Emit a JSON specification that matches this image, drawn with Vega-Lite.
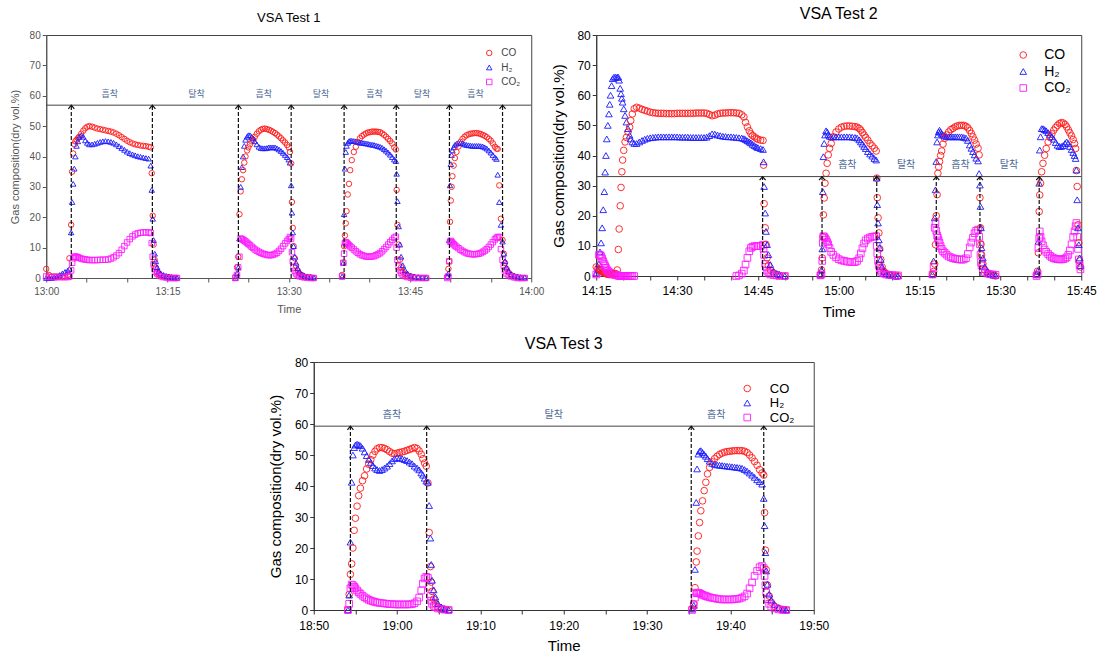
{
"$schema": "https://vega.github.io/schema/vega-lite/v6.json",
"padding": {"left": 8, "top": 5, "right": 2, "bottom": 0},
"background": "white",
"config": {
  "font": "Liberation Sans",
  "view": {"stroke": "#444", "strokeWidth": 1},
  "axis": {"grid": false, "labelFont": "Liberation Sans", "titleFont": "Liberation Sans", "titleFontWeight": "normal", "labelFlush": false, "labelOverlap": false, "domainColor": "#333", "tickColor": "#333", "tickSize": 4},
  "title": {"fontWeight": "normal", "font": "Liberation Sans", "color": "#000"}
},
"resolve": {"scale": {"color": "independent", "shape": "independent"}},
"center": true,
"spacing": 15,
"vconcat": [
{"hconcat": [
{
 "width": 485, "height": 243,
 "title": {"text": "VSA Test 1", "fontSize": 13, "offset": 5},
 "layer": [
  {
   "data": {"values": [
{"min":0,"CO":3,"H₂":0,"CO₂":0.5},{"min":0.33,"CO":1,"H₂":0,"CO₂":0.3},{"min":0.67,"CO":0.5,"H₂":0,"CO₂":0.3},{"min":1,"CO":0.5,"H₂":0.2,"CO₂":0.3},{"min":1.33,"CO":0.5,"H₂":0.5,"CO₂":0.3},{"min":1.67,"CO":0.5,"H₂":1,"CO₂":0.3},{"min":2,"CO":0.5,"H₂":1.5,"CO₂":0.3},{"min":2.33,"CO":0.5,"H₂":2,"CO₂":0.3},{"min":2.67,"CO":1,"H₂":2.5,"CO₂":0.3},{"min":2.87,"CO":6.5,"H₂":3,"CO₂":0.5},
{"min":3.08,"CO":17.5,"H₂":15,"CO₂":2.5},{"min":3.2,"CO":35,"H₂":25,"CO₂":5},{"min":3.33,"CO":41,"H₂":31,"CO₂":6.5},{"min":3.47,"CO":44,"H₂":36,"CO₂":7},{"min":3.6,"CO":45,"H₂":40,"CO₂":7},{"min":3.75,"CO":45.5,"H₂":43.5,"CO₂":7},{"min":3.92,"CO":46,"H₂":45,"CO₂":6.8},{"min":4.08,"CO":46.5,"H₂":46.5,"CO₂":6.6},{"min":4.33,"CO":47.5,"H₂":47,"CO₂":6.4},{"min":4.58,"CO":48.5,"H₂":46.5,"CO₂":6.2},{"min":4.83,"CO":49.3,"H₂":45.3,"CO₂":6.1},{"min":5.08,"CO":49.8,"H₂":44.5,"CO₂":6},{"min":5.33,"CO":50,"H₂":44,"CO₂":5.9},{"min":5.67,"CO":49.8,"H₂":44,"CO₂":5.9},{"min":6,"CO":49.5,"H₂":44.2,"CO₂":5.9},{"min":6.33,"CO":49.2,"H₂":44.5,"CO₂":5.9},{"min":6.67,"CO":49,"H₂":44.8,"CO₂":6},{"min":7,"CO":48.8,"H₂":45,"CO₂":6},{"min":7.33,"CO":48.6,"H₂":45.1,"CO₂":6},{"min":7.67,"CO":48.4,"H₂":45,"CO₂":6.1},{"min":8,"CO":48.2,"H₂":44.8,"CO₂":6.4},{"min":8.33,"CO":47.9,"H₂":44.5,"CO₂":6.8},{"min":8.67,"CO":47.5,"H₂":44,"CO₂":7.4},{"min":9,"CO":47,"H₂":43.4,"CO₂":8.2},{"min":9.33,"CO":46.4,"H₂":42.8,"CO₂":9.3},{"min":9.67,"CO":45.8,"H₂":42.2,"CO₂":10.5},{"min":10,"CO":45.2,"H₂":41.6,"CO₂":11.7},{"min":10.33,"CO":44.7,"H₂":41.1,"CO₂":12.8},{"min":10.67,"CO":44.3,"H₂":40.7,"CO₂":13.7},{"min":11,"CO":44,"H₂":40.4,"CO₂":14.3},{"min":11.33,"CO":43.8,"H₂":40.1,"CO₂":14.7},{"min":11.67,"CO":43.6,"H₂":39.9,"CO₂":14.9},{"min":12,"CO":43.5,"H₂":39.7,"CO₂":15},{"min":12.33,"CO":43.4,"H₂":39.5,"CO₂":15},{"min":12.67,"CO":43.2,"H₂":39.3,"CO₂":15},{"min":12.92,"CO":43,"H₂":37,"CO₂":14.8},{"min":13.05,"CO":34.5,"H₂":29,"CO₂":11.5},{"min":13.17,"CO":20.5,"H₂":19.5,"CO₂":7},{"min":13.28,"CO":11,"H₂":12.5,"CO₂":4.5},{"min":13.42,"CO":6,"H₂":8,"CO₂":3},{"min":13.55,"CO":3.5,"H₂":5.5,"CO₂":2},{"min":13.72,"CO":2,"H₂":3.5,"CO₂":1.5},{"min":13.92,"CO":1.2,"H₂":2.3,"CO₂":1},{"min":14.17,"CO":0.8,"H₂":1.5,"CO₂":0.6},{"min":14.5,"CO":0.5,"H₂":1,"CO₂":0.3},{"min":14.83,"CO":0.3,"H₂":0.7,"CO₂":0.2},{"min":15.17,"CO":0.2,"H₂":0.5,"CO₂":0},{"min":15.5,"CO":0.1,"H₂":0.3,"CO₂":0},{"min":15.83,"CO":0,"H₂":0.2,"CO₂":0},{"min":16.17,"CO":0,"H₂":0.1,"CO₂":0},
{"min":23.4,"CO":0.5,"H₂":0,"CO₂":0},{"min":23.6,"CO":3.5,"H₂":1.5,"CO₂":1},{"min":23.75,"CO":7,"H₂":3.5,"CO₂":3.5},{"min":23.9,"CO":21,"H₂":13,"CO₂":7},{"min":24.05,"CO":28.5,"H₂":30,"CO₂":13},{"min":24.2,"CO":32.5,"H₂":36.5,"CO₂":12.8},{"min":24.35,"CO":35.5,"H₂":40,"CO₂":12.6},{"min":24.5,"CO":38,"H₂":43.5,"CO₂":12.3},{"min":24.65,"CO":40,"H₂":45.5,"CO₂":12},{"min":24.85,"CO":42,"H₂":46.5,"CO₂":11.6},{"min":25,"CO":43,"H₂":47,"CO₂":11.2},{"min":25.2,"CO":44,"H₂":47,"CO₂":10.8},{"min":25.4,"CO":45,"H₂":46.5,"CO₂":10.3},{"min":25.6,"CO":45.5,"H₂":46,"CO₂":9.9},{"min":25.8,"CO":46.5,"H₂":45,"CO₂":9.4},{"min":26.05,"CO":47.5,"H₂":44,"CO₂":9},{"min":26.3,"CO":48.3,"H₂":43.2,"CO₂":8.6},{"min":26.55,"CO":48.8,"H₂":42.8,"CO₂":8.3},{"min":26.8,"CO":49.1,"H₂":42.7,"CO₂":8},{"min":27.05,"CO":49.2,"H₂":42.7,"CO₂":7.8},{"min":27.3,"CO":49,"H₂":42.8,"CO₂":7.6},{"min":27.55,"CO":48.8,"H₂":43,"CO₂":7.5},{"min":27.8,"CO":48.5,"H₂":43,"CO₂":7.5},{"min":28.05,"CO":48.1,"H₂":43,"CO₂":7.7},{"min":28.3,"CO":47.7,"H₂":43,"CO₂":7.9},{"min":28.55,"CO":47.2,"H₂":42.7,"CO₂":8.3},{"min":28.8,"CO":46.6,"H₂":42.3,"CO₂":8.9},{"min":29.05,"CO":46,"H₂":41.8,"CO₂":9.6},{"min":29.3,"CO":45.3,"H₂":41.2,"CO₂":10.5},{"min":29.55,"CO":44.6,"H₂":40.5,"CO₂":11.4},{"min":29.8,"CO":43.8,"H₂":39.8,"CO₂":12.2},{"min":30,"CO":43,"H₂":39,"CO₂":12.8},{"min":30.15,"CO":41.5,"H₂":38,"CO₂":13.5},{"min":30.3,"CO":37.7,"H₂":30.5,"CO₂":13},{"min":30.4,"CO":25,"H₂":21.5,"CO₂":8.5},{"min":30.5,"CO":16.5,"H₂":15,"CO₂":5.5},{"min":30.6,"CO":10.5,"H₂":10.5,"CO₂":3.5},{"min":30.75,"CO":6.5,"H₂":7,"CO₂":2.3},{"min":30.9,"CO":4,"H₂":5,"CO₂":1.5},{"min":31.1,"CO":2.5,"H₂":3.2,"CO₂":1},{"min":31.3,"CO":1.5,"H₂":2,"CO₂":0.6},{"min":31.6,"CO":1,"H₂":1.2,"CO₂":0.4},{"min":31.9,"CO":0.5,"H₂":0.8,"CO₂":0.2},{"min":32.3,"CO":0.3,"H₂":0.5,"CO₂":0.1},{"min":32.7,"CO":0.2,"H₂":0.3,"CO₂":0},{"min":33.1,"CO":0,"H₂":0.2,"CO₂":0},
{"min":36.6,"CO":1,"H₂":0.5,"CO₂":0.5},{"min":36.75,"CO":5,"H₂":5,"CO₂":5},{"min":36.85,"CO":10.5,"H₂":21,"CO₂":8},{"min":36.95,"CO":14,"H₂":36,"CO₂":11.5},{"min":37.05,"CO":18,"H₂":41.5,"CO₂":11.8},{"min":37.15,"CO":22,"H₂":43.5,"CO₂":11.6},{"min":37.3,"CO":27.5,"H₂":44.5,"CO₂":11.2},{"min":37.45,"CO":31,"H₂":45,"CO₂":10.8},{"min":37.6,"CO":35.5,"H₂":45.2,"CO₂":10.4},{"min":37.8,"CO":38.8,"H₂":45.2,"CO₂":10},{"min":38.05,"CO":41.5,"H₂":45.1,"CO₂":9.4},{"min":38.3,"CO":43.2,"H₂":45,"CO₂":8.8},{"min":38.55,"CO":44.8,"H₂":44.8,"CO₂":8.3},{"min":38.8,"CO":46,"H₂":44.6,"CO₂":7.8},{"min":39.05,"CO":46.7,"H₂":44.5,"CO₂":7.5},{"min":39.3,"CO":47.2,"H₂":44.4,"CO₂":7.3},{"min":39.55,"CO":47.6,"H₂":44.3,"CO₂":7.1},{"min":39.8,"CO":47.9,"H₂":44.2,"CO₂":7},{"min":40.05,"CO":48,"H₂":44,"CO₂":7},{"min":40.3,"CO":48.2,"H₂":43.9,"CO₂":7.1},{"min":40.55,"CO":48.2,"H₂":43.8,"CO₂":7.2},{"min":40.8,"CO":48.2,"H₂":43.6,"CO₂":7.5},{"min":41.05,"CO":48.1,"H₂":43.4,"CO₂":7.8},{"min":41.3,"CO":48,"H₂":43.2,"CO₂":8.2},{"min":41.55,"CO":47.6,"H₂":42.9,"CO₂":8.8},{"min":41.8,"CO":47.1,"H₂":42.4,"CO₂":9.5},{"min":42.05,"CO":46.5,"H₂":41.9,"CO₂":10.2},{"min":42.3,"CO":45.8,"H₂":41.3,"CO₂":11},{"min":42.55,"CO":45.1,"H₂":40.6,"CO₂":11.8},{"min":42.8,"CO":44.3,"H₂":39.8,"CO₂":12.5},{"min":43.05,"CO":43,"H₂":39,"CO₂":13.2},{"min":43.25,"CO":42.3,"H₂":38.5,"CO₂":13.6},{"min":43.35,"CO":29,"H₂":34.3,"CO₂":10},{"min":43.45,"CO":17.5,"H₂":25.3,"CO₂":6},{"min":43.6,"CO":11,"H₂":17,"CO₂":3.8},{"min":43.75,"CO":6,"H₂":11,"CO₂":2.5},{"min":43.9,"CO":3.5,"H₂":7,"CO₂":1.6},{"min":44.1,"CO":2,"H₂":4.2,"CO₂":1},{"min":44.4,"CO":1.2,"H₂":2.5,"CO₂":0.6},{"min":44.7,"CO":0.8,"H₂":1.5,"CO₂":0.3},{"min":45.1,"CO":0.5,"H₂":0.8,"CO₂":0.1},{"min":45.5,"CO":0.3,"H₂":0.5,"CO₂":0},{"min":46,"CO":0.1,"H₂":0.3,"CO₂":0},{"min":46.5,"CO":0,"H₂":0.2,"CO₂":0},{"min":47,"CO":0,"H₂":0.1,"CO₂":0},
{"min":49.6,"CO":0.5,"H₂":0.5,"CO₂":0},{"min":49.75,"CO":3,"H₂":1.5,"CO₂":0.5},{"min":49.85,"CO":5.5,"H₂":12.5,"CO₂":5.5},{"min":49.95,"CO":18.5,"H₂":30.5,"CO₂":12},{"min":50.05,"CO":25.5,"H₂":37.5,"CO₂":12.2},{"min":50.15,"CO":30,"H₂":40.5,"CO₂":11.8},{"min":50.25,"CO":33.5,"H₂":42,"CO₂":11.5},{"min":50.4,"CO":37,"H₂":43,"CO₂":11.1},{"min":50.55,"CO":39.5,"H₂":43.8,"CO₂":10.7},{"min":50.75,"CO":41.5,"H₂":44.2,"CO₂":10.3},{"min":51,"CO":43.3,"H₂":44.5,"CO₂":9.8},{"min":51.25,"CO":44.8,"H₂":44.5,"CO₂":9.3},{"min":51.5,"CO":45.8,"H₂":44.3,"CO₂":8.9},{"min":51.75,"CO":46.5,"H₂":44,"CO₂":8.5},{"min":52,"CO":47,"H₂":43.8,"CO₂":8.2},{"min":52.25,"CO":47.3,"H₂":43.7,"CO₂":8},{"min":52.5,"CO":47.5,"H₂":43.6,"CO₂":7.9},{"min":52.75,"CO":47.6,"H₂":43.5,"CO₂":7.8},{"min":53,"CO":47.7,"H₂":43.5,"CO₂":7.8},{"min":53.25,"CO":47.7,"H₂":43.5,"CO₂":7.9},{"min":53.5,"CO":47.6,"H₂":43.5,"CO₂":8},{"min":53.75,"CO":47.4,"H₂":43.4,"CO₂":8.2},{"min":54,"CO":47.1,"H₂":43.3,"CO₂":8.6},{"min":54.25,"CO":46.8,"H₂":43,"CO₂":9},{"min":54.5,"CO":46.4,"H₂":42.6,"CO₂":9.5},{"min":54.75,"CO":45.8,"H₂":42,"CO₂":10.2},{"min":55,"CO":45.2,"H₂":41.3,"CO₂":11},{"min":55.25,"CO":44.3,"H₂":40.5,"CO₂":11.8},{"min":55.5,"CO":43.2,"H₂":39.7,"CO₂":12.7},{"min":55.7,"CO":42.6,"H₂":39.2,"CO₂":13.2},{"min":55.85,"CO":42.5,"H₂":34,"CO₂":13.5},{"min":56.05,"CO":30.5,"H₂":25,"CO₂":13.5},{"min":56.25,"CO":19.5,"H₂":17.5,"CO₂":9.5},{"min":56.45,"CO":12.5,"H₂":12,"CO₂":6},{"min":56.6,"CO":8,"H₂":8,"CO₂":4},{"min":56.75,"CO":5,"H₂":5.5,"CO₂":2.5},{"min":56.95,"CO":3,"H₂":3.5,"CO₂":1.5},{"min":57.2,"CO":1.8,"H₂":2.2,"CO₂":1},{"min":57.5,"CO":1,"H₂":1.3,"CO₂":0.5},{"min":57.9,"CO":0.5,"H₂":0.8,"CO₂":0.2},{"min":58.3,"CO":0.2,"H₂":0.5,"CO₂":0},{"min":58.7,"CO":0,"H₂":0.3,"CO₂":0},{"min":59.2,"CO":0,"H₂":0.2,"CO₂":0}
   ]},
   "transform": [{"fold": ["CO", "H₂", "CO₂"], "as": ["gas", "pct"]}, {"filter": {"field": "pct", "valid": true}}],
   "mark": {"type": "point", "filled": false, "size": 30, "strokeWidth": 0.9, "opacity": 1},
   "encoding": {
    "x": {"field": "min", "type": "quantitative", "title": "Time",
      "scale": {"domain": [0, 60], "nice": false, "zero": false},
      "axis": {"values": [0,5,10,15,20,25,30,35,40,45,50,55,60], "tickCount": 100, "labelOverlap": false, "labelExpr": "datum.value % 15 == 0 ? floor((780 + datum.value) / 60) + ':' + (((780 + datum.value) % 60) < 10 ? '0' : '') + ((780 + datum.value) % 60) : ''", "labelFontSize": 10, "labelColor": "#555", "titleFontSize": 11, "titleColor": "#555", "labelPadding": 4, "titlePadding": 7, "domainColor": "#555", "tickColor": "#555"}},
    "y": {"field": "pct", "type": "quantitative", "title": "Gas composition(dry vol.%)",
      "scale": {"domain": [0, 80], "nice": false},
      "axis": {"values": [0, 10, 20, 30, 40, 50, 60, 70, 80], "tickCount": 100, "labelOverlap": false, "labelFontSize": 10, "labelColor": "#555", "titleFontSize": 11, "titleColor": "#555", "labelPadding": 2, "titlePadding": 9, "domainColor": "#555", "tickColor": "#555"}},
    "color": {"field": "gas", "type": "nominal", "scale": {"domain": ["CO", "H₂", "CO₂"], "range": ["#ff1a1a", "#1a1aff", "#ff1aff"]},
      "legend": {"orient": "none", "legendX": 438, "legendY": 13, "title": null, "padding": 0, "labelFontSize": 10, "labelColor": "#444", "symbolSize": 30, "symbolStrokeWidth": 0.9, "rowPadding": 4.5, "labelOffset": 7}},
    "shape": {"field": "gas", "type": "nominal", "scale": {"domain": ["CO", "H₂", "CO₂"], "range": ["circle", "triangle-up", "square"]},
      "legend": {"orient": "none", "legendX": 438, "legendY": 13, "title": null, "padding": 0, "labelFontSize": 10, "labelColor": "#444", "symbolSize": 30, "symbolStrokeWidth": 0.9, "rowPadding": 4.5, "labelOffset": 7}}
   }
  },
  {"data": {"values": [{}]}, "mark": {"type": "rule", "color": "#444", "strokeWidth": 1}, "encoding": {"y": {"datum": 56.9}}},
  {"data": {"values": [{"min":3.1},{"min":13.13},{"min":23.77},{"min":30.3},{"min":36.85},{"min":43.3},{"min":49.88},{"min":56.45}]},
   "mark": {"type": "rule", "color": "#111", "strokeWidth": 1.2, "strokeDash": [4, 2]}, "encoding": {"x": {"field": "min", "type": "quantitative"}, "y": {"datum": 0}, "y2": {"datum": 56.9}}},
  {"data": {"values": [{"min":3.1},{"min":13.13},{"min":23.77},{"min":30.3},{"min":36.85},{"min":43.3},{"min":49.88},{"min":56.45}]},
   "mark": {"type": "point", "shape": "M-1,1.2L0,0L1,1.2", "filled": false, "size": 36, "color": "#111", "strokeWidth": 1.2, "opacity": 1}, "encoding": {"x": {"field": "min", "type": "quantitative"}, "y": {"datum": 56.9}}},
  {"data": {"values": [{"min":7.87,"label":"흡착"},{"min":18.6,"label":"탈착"},{"min":26.9,"label":"흡착"},{"min":34,"label":"탈착"},{"min":40.6,"label":"흡착"},{"min":46.5,"label":"탈착"},{"min":53.1,"label":"흡착"}]},
   "mark": {"type": "text", "font": "Noto Sans CJK KR", "fontSize": 9, "color": "#4d6a96"},
   "encoding": {"x": {"field": "min", "type": "quantitative"}, "y": {"datum": 60.6}, "text": {"field": "label"}}}
 ]
},
{
 "width": 485, "height": 241,
 "title": {"text": "VSA Test 2", "fontSize": 16, "offset": 7},
 "layer": [
  {
   "data": {"values": [
{"min":0,"CO":3,"H₂":1,"CO₂":0.5},{"min":0.3,"CO":2.5,"H₂":2,"CO₂":1},{"min":0.5,"CO":2.2,"H₂":4,"CO₂":7},{"min":0.7,"CO":2,"H₂":8,"CO₂":7},{"min":0.9,"CO":1.7,"H₂":11,"CO₂":6.6},{"min":1.1,"CO":1.4,"H₂":16,"CO₂":5.8},{"min":1.3,"CO":1.2,"H₂":22,"CO₂":4.9},{"min":1.5,"CO":1,"H₂":28,"CO₂":4},{"min":1.65,"CO":0.9,"H₂":34.5,"CO₂":3.3},{"min":1.8,"CO":0.8,"H₂":40,"CO₂":2.7},{"min":1.95,"CO":0.7,"H₂":45.5,"CO₂":2.2},{"min":2.15,"CO":0.6,"H₂":50,"CO₂":1.7},{"min":2.35,"CO":0.5,"H₂":53.8,"CO₂":1.3},{"min":2.5,"CO":0.5,"H₂":57,"CO₂":1.1},{"min":2.65,"CO":0.5,"H₂":60,"CO₂":0.9},{"min":2.85,"CO":0.5,"H₂":63.2,"CO₂":0.7},{"min":3.05,"CO":0.5,"H₂":65.5,"CO₂":0.6},{"min":3.3,"CO":0.6,"H₂":66,"CO₂":0.5},{"min":3.6,"CO":0.8,"H₂":66,"CO₂":0.3},{"min":3.9,"CO":2,"H₂":66,"CO₂":0.2},{"min":4.1,"CO":8.8,"H₂":66,"CO₂":0.1},{"min":4.25,"CO":15.6,"H₂":65,"CO₂":0.1},{"min":4.45,"CO":23.3,"H₂":62.3,"CO₂":0},{"min":4.6,"CO":29.4,"H₂":60.5,"CO₂":0},{"min":4.75,"CO":34.6,"H₂":59,"CO₂":0},{"min":4.9,"CO":38.5,"H₂":57.7,"CO₂":0},{"min":5.1,"CO":41.7,"H₂":55.5,"CO₂":0},{"min":5.35,"CO":44.5,"H₂":53.3,"CO₂":0},{"min":5.6,"CO":46,"H₂":51.1,"CO₂":0},{"min":5.9,"CO":47.8,"H₂":48.9,"CO₂":0},{"min":6.2,"CO":49.4,"H₂":46.7,"CO₂":0},{"min":6.4,"CO":51.6,"H₂":45.5,"CO₂":0},{"min":6.7,"CO":53.8,"H₂":44.5,"CO₂":0},{"min":7.05,"CO":55.5,"H₂":44,"CO₂":0},
{"min":7.5,"CO":56,"H₂":44},{"min":8,"CO":55.7,"H₂":44.5},{"min":8.5,"CO":55.3,"H₂":45},{"min":9,"CO":55,"H₂":45.4},{"min":9.5,"CO":54.7,"H₂":45.7},{"min":10,"CO":54.4,"H₂":45.9},{"min":10.5,"CO":54.2,"H₂":46},{"min":11,"CO":54.1,"H₂":46.1},{"min":11.5,"CO":54,"H₂":46.2},{"min":12,"CO":54,"H₂":46.2},{"min":12.5,"CO":54,"H₂":46.2},{"min":13,"CO":53.9,"H₂":46.2},{"min":13.5,"CO":53.9,"H₂":46.2},{"min":14,"CO":53.9,"H₂":46.2},{"min":14.5,"CO":53.9,"H₂":46.2},{"min":15,"CO":54,"H₂":46.2},{"min":15.5,"CO":54,"H₂":46.1},{"min":16,"CO":54,"H₂":46.1},{"min":16.5,"CO":54,"H₂":46.1},{"min":17,"CO":54,"H₂":46.1},{"min":17.5,"CO":54,"H₂":46},{"min":18,"CO":54,"H₂":46},{"min":18.5,"CO":54.1,"H₂":46},{"min":19,"CO":54.1,"H₂":46},{"min":19.5,"CO":54.1,"H₂":46},{"min":20,"CO":54.1,"H₂":46},{"min":20.5,"CO":54,"H₂":46.1},{"min":21,"CO":53.6,"H₂":46.6},{"min":21.5,"CO":53.2,"H₂":47.2},{"min":22,"CO":53.4,"H₂":47.1},{"min":22.5,"CO":53.8,"H₂":46.8},{"min":23,"CO":54,"H₂":46.6},{"min":23.5,"CO":54.1,"H₂":46.4},{"min":24,"CO":54.1,"H₂":46.3},{"min":24.5,"CO":54.2,"H₂":46.2},{"min":25,"CO":54.2,"H₂":46.2},{"min":25.5,"CO":54.2,"H₂":46.1},
{"min":26,"CO":54.1,"H₂":46,"CO₂":0},{"min":26.5,"CO":54,"H₂":45.9,"CO₂":0.2},{"min":27,"CO":53.5,"H₂":45.8,"CO₂":0.8},{"min":27.4,"CO":52.8,"H₂":45.6,"CO₂":1.8},{"min":27.7,"CO":51,"H₂":45.3,"CO₂":3.8},{"min":28.05,"CO":49.5,"H₂":44.9,"CO₂":6},{"min":28.4,"CO":48.2,"H₂":44.5,"CO₂":8.2},{"min":28.7,"CO":47.2,"H₂":44.2,"CO₂":9.3},{"min":29,"CO":46.6,"H₂":43.7,"CO₂":9.7},{"min":29.35,"CO":46.2,"H₂":43.3,"CO₂":9.9},{"min":29.7,"CO":45.7,"H₂":42.9,"CO₂":9.9},{"min":30,"CO":45.4,"H₂":42.6,"CO₂":9.9},{"min":30.5,"CO":45.1,"H₂":42.3,"CO₂":10},{"min":30.95,"CO":45,"H₂":42,"CO₂":10.4},{"min":31.05,"CO":36.8,"H₂":37.9,"CO₂":9},{"min":31.15,"CO":24,"H₂":29.7,"CO₂":7},{"min":31.35,"CO":16,"H₂":20.9,"CO₂":4},{"min":31.5,"CO":10.5,"H₂":14.8,"CO₂":3},{"min":31.7,"CO":6,"H₂":10.4,"CO₂":1.8},{"min":31.95,"CO":3.5,"H₂":7.1,"CO₂":1.2},{"min":32.3,"CO":2,"H₂":3.8,"CO₂":0.5},{"min":32.9,"CO":1,"H₂":1.6,"CO₂":0.3},{"min":33.5,"CO":0.5,"H₂":0.8,"CO₂":0.2},{"min":34,"CO":0.2,"H₂":0.5,"CO₂":0},{"min":35,"CO":0,"H₂":0,"CO₂":0},
{"min":41.6,"CO":0.5,"H₂":0.3,"CO₂":0.2},{"min":41.8,"CO":2,"H₂":2,"CO₂":0.5},{"min":41.95,"CO":6,"H₂":9,"CO₂":5},{"min":42.05,"CO":13,"H₂":28,"CO₂":11},{"min":42.15,"CO":20.3,"H₂":39.6,"CO₂":13.2},{"min":42.3,"CO":25.9,"H₂":44,"CO₂":12.9},{"min":42.45,"CO":30.8,"H₂":46.8,"CO₂":12.6},{"min":42.65,"CO":34.1,"H₂":48.2,"CO₂":12},{"min":42.85,"CO":37.4,"H₂":47.8,"CO₂":11.3},{"min":43.05,"CO":40.2,"H₂":47,"CO₂":10.5},{"min":43.3,"CO":42.4,"H₂":46.4,"CO₂":9.3},{"min":43.6,"CO":44,"H₂":46.2,"CO₂":8},{"min":44,"CO":46.2,"H₂":46.2,"CO₂":7},{"min":44.5,"CO":47.8,"H₂":46.2,"CO₂":6.2},{"min":45,"CO":48.8,"H₂":46.2,"CO₂":5.6},{"min":45.5,"CO":49.4,"H₂":46.2,"CO₂":5.2},{"min":46,"CO":49.7,"H₂":46.2,"CO₂":5},{"min":46.5,"CO":49.8,"H₂":46.2,"CO₂":4.8},{"min":47,"CO":49.8,"H₂":46.2,"CO₂":4.7},{"min":47.5,"CO":49.7,"H₂":46.1,"CO₂":4.6},{"min":48,"CO":49.6,"H₂":46,"CO₂":4.6},{"min":48.4,"CO":49.4,"H₂":45.8,"CO₂":5},{"min":48.8,"CO":49,"H₂":45.2,"CO₂":5.9},{"min":49.1,"CO":48.4,"H₂":44.5,"CO₂":7.5},{"min":49.4,"CO":47.6,"H₂":43.8,"CO₂":9.2},{"min":49.7,"CO":46.8,"H₂":43,"CO₂":10.8},{"min":50,"CO":46,"H₂":42.3,"CO₂":11.8},{"min":50.4,"CO":45.1,"H₂":41.3,"CO₂":12.4},{"min":50.8,"CO":44,"H₂":40.5,"CO₂":12.8},{"min":51.2,"CO":43.2,"H₂":39.8,"CO₂":13},{"min":51.6,"CO":42.4,"H₂":39,"CO₂":13.1},{"min":51.95,"CO":41.5,"H₂":38.5,"CO₂":13.2},{"min":52.05,"CO":32.5,"H₂":32.5,"CO₂":10},{"min":52.15,"CO":26,"H₂":23.7,"CO₂":7.5},{"min":52.3,"CO":19.3,"H₂":17.6,"CO₂":5},{"min":52.45,"CO":14.3,"H₂":12,"CO₂":3.5},{"min":52.6,"CO":9,"H₂":9.4,"CO₂":2.5},{"min":52.8,"CO":5.5,"H₂":5.5,"CO₂":1.8},{"min":53.05,"CO":3,"H₂":3,"CO₂":1.2},{"min":53.4,"CO":1.5,"H₂":1.5,"CO₂":0.8},{"min":53.8,"CO":0.8,"H₂":0.8,"CO₂":0.5},{"min":54.3,"CO":0.4,"H₂":0.4,"CO₂":0.4},{"min":54.9,"CO":0.2,"H₂":0.2,"CO₂":0.3},{"min":55.5,"CO":0,"H₂":0,"CO₂":0.2},{"min":56,"CO":0,"H₂":0,"CO₂":0.2},
{"min":62.4,"CO":0.5,"H₂":0.5,"CO₂":0.5},{"min":62.6,"CO":1.5,"H₂":5,"CO₂":3},{"min":62.8,"CO":4,"H₂":19.3,"CO₂":16},{"min":62.95,"CO":10.4,"H₂":28.6,"CO₂":17.6},{"min":63.1,"CO":20,"H₂":38,"CO₂":15},{"min":63.25,"CO":27,"H₂":44.5,"CO₂":13.5},{"min":63.4,"CO":34.1,"H₂":46.8,"CO₂":12.7},{"min":63.55,"CO":36.2,"H₂":47.8,"CO₂":11.8},{"min":63.7,"CO":38,"H₂":48.4,"CO₂":11},{"min":63.9,"CO":40,"H₂":47.8,"CO₂":9.9},{"min":64.1,"CO":41.5,"H₂":47.2,"CO₂":9},{"min":64.35,"CO":43.8,"H₂":46.8,"CO₂":8.2},{"min":64.65,"CO":45.7,"H₂":46.5,"CO₂":7.7},{"min":65,"CO":46.8,"H₂":46.3,"CO₂":7.1},{"min":65.4,"CO":47.8,"H₂":46.2,"CO₂":6.5},{"min":65.8,"CO":48.6,"H₂":46.2,"CO₂":6.2},{"min":66.2,"CO":49,"H₂":46.2,"CO₂":5.9},{"min":66.6,"CO":49.5,"H₂":46.2,"CO₂":5.7},{"min":67,"CO":49.8,"H₂":46.2,"CO₂":5.6},{"min":67.4,"CO":50,"H₂":46.2,"CO₂":5.5},{"min":67.8,"CO":50,"H₂":46.2,"CO₂":5.4},{"min":68.2,"CO":50,"H₂":46,"CO₂":5.5},{"min":68.6,"CO":49.7,"H₂":45.8,"CO₂":5.9},{"min":68.95,"CO":49.2,"H₂":45,"CO₂":7.3},{"min":69.3,"CO":48.3,"H₂":43.5,"CO₂":9.5},{"min":69.6,"CO":47.3,"H₂":42.4,"CO₂":11.1},{"min":69.9,"CO":46.2,"H₂":41.3,"CO₂":12.7},{"min":70.2,"CO":45.1,"H₂":40.2,"CO₂":14.2},{"min":70.5,"CO":43.8,"H₂":39.1,"CO₂":15},{"min":70.85,"CO":42.4,"H₂":38.2,"CO₂":15.4},{"min":71.05,"CO":40.2,"H₂":34,"CO₂":13},{"min":71.2,"CO":26,"H₂":30.2,"CO₂":10.5},{"min":71.3,"CO":16,"H₂":23.1,"CO₂":7},{"min":71.4,"CO":10.5,"H₂":16,"CO₂":4.5},{"min":71.5,"CO":7,"H₂":9.4,"CO₂":3.5},{"min":71.75,"CO":4,"H₂":6,"CO₂":2.2},{"min":72.1,"CO":2,"H₂":3,"CO₂":1.3},{"min":72.6,"CO":1,"H₂":1.5,"CO₂":0.8},{"min":73.1,"CO":0.5,"H₂":0.8,"CO₂":0.6},{"min":73.6,"CO":0.2,"H₂":0.4,"CO₂":0.5},{"min":74.1,"CO":0,"H₂":0.2,"CO₂":0.4},
{"min":81.7,"CO":0.5,"H₂":0.5,"CO₂":0},{"min":81.9,"CO":1.6,"H₂":1.6,"CO₂":0.5},{"min":82.05,"CO":7.7,"H₂":11.5,"CO₂":9.3},{"min":82.2,"CO":21.4,"H₂":30.8,"CO₂":12.5},{"min":82.3,"CO":26.9,"H₂":41.8,"CO₂":14.8},{"min":82.45,"CO":30.8,"H₂":46.2,"CO₂":13},{"min":82.65,"CO":34.6,"H₂":48.9,"CO₂":11.5},{"min":82.9,"CO":37.4,"H₂":48.9,"CO₂":10.2},{"min":83.2,"CO":40.1,"H₂":48.6,"CO₂":8.8},{"min":83.5,"CO":42.3,"H₂":48.2,"CO₂":8},{"min":83.85,"CO":44.5,"H₂":47.6,"CO₂":7.3},{"min":84.2,"CO":46,"H₂":47,"CO₂":6.7},{"min":84.55,"CO":47.2,"H₂":46.2,"CO₂":6.2},{"min":84.9,"CO":48.4,"H₂":45.4,"CO₂":5.9},{"min":85.25,"CO":49.3,"H₂":44.3,"CO₂":5.7},{"min":85.6,"CO":50,"H₂":43.4,"CO₂":5.6},{"min":85.95,"CO":50.6,"H₂":43,"CO₂":5.5},{"min":86.3,"CO":50.9,"H₂":43,"CO₂":5.5},{"min":86.65,"CO":50.8,"H₂":43.3,"CO₂":5.6},{"min":87,"CO":50.3,"H₂":44,"CO₂":5.8},{"min":87.3,"CO":49.5,"H₂":44.5,"CO₂":6.2},{"min":87.6,"CO":48.5,"H₂":44,"CO₂":7},{"min":87.9,"CO":47.5,"H₂":43,"CO₂":8.5},{"min":88.2,"CO":46.5,"H₂":42,"CO₂":10.5},{"min":88.5,"CO":45.3,"H₂":41,"CO₂":13},{"min":88.75,"CO":44,"H₂":40,"CO₂":14.8},{"min":88.95,"CO":42.3,"H₂":39,"CO₂":16.5},{"min":89.1,"CO":35,"H₂":35.2,"CO₂":17.6},{"min":89.25,"CO":29.7,"H₂":25.3,"CO₂":13},{"min":89.4,"CO":17,"H₂":16,"CO₂":9},{"min":89.55,"CO":11,"H₂":10.4,"CO₂":5.5},{"min":89.7,"CO":5,"H₂":6,"CO₂":3.5},{"min":89.85,"CO":3,"H₂":3.5,"CO₂":2.2}
   ]},
   "transform": [{"fold": ["CO", "H₂", "CO₂"], "as": ["gas", "pct"]}, {"filter": {"field": "pct", "valid": true}}],
   "mark": {"type": "point", "filled": false, "size": 44, "strokeWidth": 0.9, "opacity": 1},
   "encoding": {
    "x": {"field": "min", "type": "quantitative", "title": "Time",
      "scale": {"domain": [0, 90], "nice": false, "zero": false},
      "axis": {"values": [0,5,10,15,20,25,30,35,40,45,50,55,60,65,70,75,80,85,90], "tickCount": 100, "labelOverlap": false, "labelExpr": "datum.value % 15 == 0 ? floor((855 + datum.value) / 60) + ':' + (((855 + datum.value) % 60) < 10 ? '0' : '') + ((855 + datum.value) % 60) : ''", "labelFontSize": 12, "labelColor": "#000", "titleFontSize": 15, "titleColor": "#000", "labelPadding": 5, "titlePadding": 8}},
    "y": {"field": "pct", "type": "quantitative", "title": "Gas composition(dry vol.%)",
      "scale": {"domain": [0, 80], "nice": false},
      "axis": {"values": [0, 10, 20, 30, 40, 50, 60, 70, 80], "tickCount": 100, "labelOverlap": false, "labelFontSize": 12, "labelColor": "#000", "titleFontSize": 15, "titleColor": "#000", "labelPadding": 2, "titlePadding": 10}},
    "color": {"field": "gas", "type": "nominal", "scale": {"domain": ["CO", "H₂", "CO₂"], "range": ["#ff1a1a", "#1a1aff", "#ff1aff"]},
      "legend": {"orient": "none", "legendX": 420, "legendY": 13, "title": null, "padding": 0, "labelFontSize": 14, "labelColor": "#000", "symbolSize": 44, "symbolStrokeWidth": 0.9, "rowPadding": 2.5, "labelOffset": 14}},
    "shape": {"field": "gas", "type": "nominal", "scale": {"domain": ["CO", "H₂", "CO₂"], "range": ["circle", "triangle-up", "square"]},
      "legend": {"orient": "none", "legendX": 420, "legendY": 13, "title": null, "padding": 0, "labelFontSize": 14, "labelColor": "#000", "symbolSize": 44, "symbolStrokeWidth": 0.9, "rowPadding": 2.5, "labelOffset": 14}}
   }
  },
  {"data": {"values": [{}]}, "mark": {"type": "rule", "color": "#444", "strokeWidth": 1}, "encoding": {"y": {"datum": 33}}},
  {"data": {"values": [{"min":30.87},{"min":41.9},{"min":52.05},{"min":63.1},{"min":71.2},{"min":82.2}]},
   "mark": {"type": "rule", "color": "#111", "strokeWidth": 1.2, "strokeDash": [4, 2]}, "encoding": {"x": {"field": "min", "type": "quantitative"}, "y": {"datum": 0}, "y2": {"datum": 33}}},
  {"data": {"values": [{"min":30.87},{"min":41.9},{"min":52.05},{"min":63.1},{"min":71.2},{"min":82.2}]},
   "mark": {"type": "point", "shape": "M-1,1.2L0,0L1,1.2", "filled": false, "size": 36, "color": "#111", "strokeWidth": 1.2, "opacity": 1}, "encoding": {"x": {"field": "min", "type": "quantitative"}, "y": {"datum": 33}}},
  {"data": {"values": [{"min":46.6,"label":"흡착"},{"min":57.5,"label":"탈착"},{"min":67.6,"label":"흡착"},{"min":76.6,"label":"탈착"}]},
   "mark": {"type": "text", "font": "Noto Sans CJK KR", "fontSize": 10, "color": "#4d6a96"},
   "encoding": {"x": {"field": "min", "type": "quantitative"}, "y": {"datum": 37}, "text": {"field": "label"}}}
 ]
}
], "spacing": 6, "resolve": {"scale": {"color": "independent", "shape": "independent"}}},
{
 "width": 500, "height": 248,
 "title": {"text": "VSA Test 3", "fontSize": 16, "offset": 4},
 "layer": [
  {
   "data": {"values": [
{"min":4.1,"CO":0,"H₂":0,"CO₂":0},{"min":4.25,"CO":5,"H₂":4.8,"CO₂":2},{"min":4.4,"CO":11.5,"H₂":21.9,"CO₂":7},{"min":4.55,"CO":14.9,"H₂":41.2,"CO₂":8.2},{"min":4.7,"CO":20,"H₂":50,"CO₂":8},{"min":4.85,"CO":25.7,"H₂":52.4,"CO₂":7.5},{"min":5,"CO":29.6,"H₂":53.2,"CO₂":7},{"min":5.2,"CO":33.5,"H₂":53.5,"CO₂":6.3},{"min":5.4,"CO":36.9,"H₂":53.3,"CO₂":5.7},{"min":5.6,"CO":39.3,"H₂":53,"CO₂":5.2},{"min":5.85,"CO":41.7,"H₂":52.2,"CO₂":4.6},{"min":6.1,"CO":43.3,"H₂":51,"CO₂":4.1},{"min":6.35,"CO":45.5,"H₂":49.8,"CO₂":3.7},{"min":6.6,"CO":47,"H₂":48.6,"CO₂":3.3},{"min":6.85,"CO":48.5,"H₂":47.6,"CO₂":3},{"min":7.1,"CO":50,"H₂":46.6,"CO₂":2.8},{"min":7.35,"CO":51.2,"H₂":45.8,"CO₂":2.6},{"min":7.6,"CO":52,"H₂":45.3,"CO₂":2.4},{"min":7.9,"CO":52.4,"H₂":45,"CO₂":2.3},{"min":8.2,"CO":52.4,"H₂":45.3,"CO₂":2.2},{"min":8.5,"CO":52.1,"H₂":45.8,"CO₂":2.1},{"min":8.8,"CO":51.7,"H₂":46.4,"CO₂":2},{"min":9.1,"CO":51.1,"H₂":47.2,"CO₂":1.9},{"min":9.4,"CO":50.6,"H₂":48.1,"CO₂":1.9},{"min":9.7,"CO":50.4,"H₂":48.8,"CO₂":1.8},{"min":10,"CO":50.6,"H₂":49.2,"CO₂":1.8},{"min":10.3,"CO":50.8,"H₂":49,"CO₂":1.8},{"min":10.6,"CO":51,"H₂":48.8,"CO₂":1.8},{"min":10.9,"CO":51.2,"H₂":48.5,"CO₂":1.8},{"min":11.2,"CO":51.5,"H₂":48.2,"CO₂":1.8},{"min":11.5,"CO":51.8,"H₂":47.7,"CO₂":1.8},{"min":11.8,"CO":52.1,"H₂":47.2,"CO₂":1.9},{"min":12.1,"CO":52.4,"H₂":46.4,"CO₂":2.2},{"min":12.4,"CO":52.1,"H₂":45.8,"CO₂":2.8},{"min":12.65,"CO":51.3,"H₂":45.2,"CO₂":4},{"min":12.9,"CO":50.2,"H₂":44.2,"CO₂":6.3},{"min":13.1,"CO":48.8,"H₂":43.5,"CO₂":8.5},{"min":13.3,"CO":47.4,"H₂":42.5,"CO₂":10.2},{"min":13.5,"CO":46.4,"H₂":41.6,"CO₂":10.7},{"min":13.7,"CO":41,"H₂":41.2,"CO₂":10.4},{"min":13.85,"CO":25,"H₂":33.7,"CO₂":7.5},{"min":14,"CO":14,"H₂":23.2,"CO₂":4.5},{"min":14.1,"CO":9,"H₂":14.7,"CO₂":3},{"min":14.2,"CO":6,"H₂":9.6,"CO₂":2},{"min":14.4,"CO":3.5,"H₂":6.5,"CO₂":1.3},{"min":14.6,"CO":2,"H₂":4.2,"CO₂":0.9},{"min":14.9,"CO":1,"H₂":2.1,"CO₂":0.5},{"min":15.3,"CO":0.5,"H₂":1,"CO₂":0.3},{"min":15.7,"CO":0.2,"H₂":0.4,"CO₂":0.1},{"min":16.2,"CO":0,"H₂":0,"CO₂":0},
{"min":45.4,"CO":0.5,"H₂":0.3,"CO₂":0},{"min":45.6,"CO":2,"H₂":1.5,"CO₂":1.5},{"min":45.75,"CO":7.2,"H₂":13.1,"CO₂":4},{"min":45.9,"CO":15.5,"H₂":34.7,"CO₂":5.4},{"min":46,"CO":19,"H₂":45.5,"CO₂":5.6},{"min":46.15,"CO":23.9,"H₂":50.3,"CO₂":5.5},{"min":46.3,"CO":28.2,"H₂":51.2,"CO₂":5.4},{"min":46.45,"CO":32,"H₂":51.4,"CO₂":5.2},{"min":46.65,"CO":35.2,"H₂":50.8,"CO₂":4.9},{"min":46.85,"CO":38.5,"H₂":50.2,"CO₂":4.7},{"min":47.05,"CO":41.2,"H₂":49.6,"CO₂":4.5},{"min":47.25,"CO":43.9,"H₂":48.8,"CO₂":4.3},{"min":47.5,"CO":46,"H₂":48,"CO₂":4.1},{"min":47.8,"CO":47.8,"H₂":47.3,"CO₂":3.9},{"min":48.1,"CO":48.8,"H₂":47,"CO₂":3.8},{"min":48.4,"CO":49.6,"H₂":46.8,"CO₂":3.6},{"min":48.7,"CO":50.2,"H₂":46.7,"CO₂":3.5},{"min":49,"CO":50.6,"H₂":46.6,"CO₂":3.4},{"min":49.3,"CO":50.9,"H₂":46.5,"CO₂":3.4},{"min":49.6,"CO":51.1,"H₂":46.4,"CO₂":3.4},{"min":49.9,"CO":51.2,"H₂":46.3,"CO₂":3.4},{"min":50.2,"CO":51.3,"H₂":46.2,"CO₂":3.4},{"min":50.5,"CO":51.4,"H₂":46.1,"CO₂":3.5},{"min":50.8,"CO":51.4,"H₂":46,"CO₂":3.6},{"min":51.1,"CO":51.4,"H₂":45.9,"CO₂":3.7},{"min":51.4,"CO":51.4,"H₂":45.7,"CO₂":4},{"min":51.7,"CO":51.2,"H₂":45.3,"CO₂":4.4},{"min":52,"CO":50.8,"H₂":44.8,"CO₂":5.3},{"min":52.3,"CO":50,"H₂":44.2,"CO₂":7},{"min":52.6,"CO":49.1,"H₂":43.5,"CO₂":8.9},{"min":52.9,"CO":47.9,"H₂":42.8,"CO₂":11},{"min":53.2,"CO":46.7,"H₂":42,"CO₂":12.6},{"min":53.5,"CO":45.3,"H₂":41.4,"CO₂":13.8},{"min":53.8,"CO":44.2,"H₂":40.6,"CO₂":14.2},{"min":54,"CO":43.5,"H₂":36,"CO₂":13.5},{"min":54.1,"CO":31.4,"H₂":27.2,"CO₂":11},{"min":54.2,"CO":19.3,"H₂":18.5,"CO₂":8},{"min":54.3,"CO":13,"H₂":12.6,"CO₂":5.6},{"min":54.45,"CO":8,"H₂":8.3,"CO₂":3.5},{"min":54.65,"CO":4.5,"H₂":5.1,"CO₂":2},{"min":54.9,"CO":2.5,"H₂":3.2,"CO₂":1.1},{"min":55.3,"CO":1.2,"H₂":1.8,"CO₂":0.5},{"min":55.8,"CO":0.5,"H₂":0.8,"CO₂":0.2},{"min":56.3,"CO":0.2,"H₂":0.3,"CO₂":0},{"min":56.7,"CO":0,"H₂":0,"CO₂":0}
   ]},
   "transform": [{"fold": ["CO", "H₂", "CO₂"], "as": ["gas", "pct"]}, {"filter": {"field": "pct", "valid": true}}],
   "mark": {"type": "point", "filled": false, "size": 44, "strokeWidth": 0.9, "opacity": 1},
   "encoding": {
    "x": {"field": "min", "type": "quantitative", "title": "Time",
      "scale": {"domain": [0, 60], "nice": false, "zero": false},
      "axis": {"values": [0,5,10,15,20,25,30,35,40,45,50,55,60], "tickCount": 100, "labelOverlap": false, "labelExpr": "datum.value % 10 == 0 ? floor((1130 + datum.value) / 60) + ':' + (((1130 + datum.value) % 60) < 10 ? '0' : '') + ((1130 + datum.value) % 60) : ''", "labelFontSize": 12, "labelColor": "#000", "titleFontSize": 15, "titleColor": "#000", "labelPadding": 6, "titlePadding": 7}},
    "y": {"field": "pct", "type": "quantitative", "title": "Gas composition(dry vol.%)",
      "scale": {"domain": [0, 80], "nice": false},
      "axis": {"values": [0, 10, 20, 30, 40, 50, 60, 70, 80], "tickCount": 100, "labelOverlap": false, "labelFontSize": 12, "labelColor": "#000", "titleFontSize": 15, "titleColor": "#000", "labelPadding": 2, "titlePadding": 11}},
    "color": {"field": "gas", "type": "nominal", "scale": {"domain": ["CO", "H₂", "CO₂"], "range": ["#ff1a1a", "#1a1aff", "#ff1aff"]},
      "legend": {"orient": "none", "legendX": 427, "legendY": 20, "title": null, "padding": 0, "labelFontSize": 13, "labelColor": "#000", "symbolSize": 44, "symbolStrokeWidth": 0.9, "rowPadding": 0.5, "labelOffset": 16}},
    "shape": {"field": "gas", "type": "nominal", "scale": {"domain": ["CO", "H₂", "CO₂"], "range": ["circle", "triangle-up", "square"]},
      "legend": {"orient": "none", "legendX": 427, "legendY": 20, "title": null, "padding": 0, "labelFontSize": 13, "labelColor": "#000", "symbolSize": 44, "symbolStrokeWidth": 0.9, "rowPadding": 0.5, "labelOffset": 16}}
   }
  },
  {"data": {"values": [{}]}, "mark": {"type": "rule", "color": "#444", "strokeWidth": 1}, "encoding": {"y": {"datum": 59.3}}},
  {"data": {"values": [{"min":4.4},{"min":13.55},{"min":45.3},{"min":54}]},
   "mark": {"type": "rule", "color": "#111", "strokeWidth": 1.2, "strokeDash": [4, 2]}, "encoding": {"x": {"field": "min", "type": "quantitative"}, "y": {"datum": 0}, "y2": {"datum": 59.3}}},
  {"data": {"values": [{"min":4.4},{"min":13.55},{"min":45.3},{"min":54}]},
   "mark": {"type": "point", "shape": "M-1,1.2L0,0L1,1.2", "filled": false, "size": 36, "color": "#111", "strokeWidth": 1.2, "opacity": 1}, "encoding": {"x": {"field": "min", "type": "quantitative"}, "y": {"datum": 59.3}}},
  {"data": {"values": [{"min":9.4,"label":"흡착"},{"min":28.8,"label":"탈착"},{"min":48.3,"label":"흡착"}]},
   "mark": {"type": "text", "font": "Noto Sans CJK KR", "fontSize": 10, "color": "#4d6a96"},
   "encoding": {"x": {"field": "min", "type": "quantitative"}, "y": {"datum": 62.8}, "text": {"field": "label"}}}
 ]
}
]
}
